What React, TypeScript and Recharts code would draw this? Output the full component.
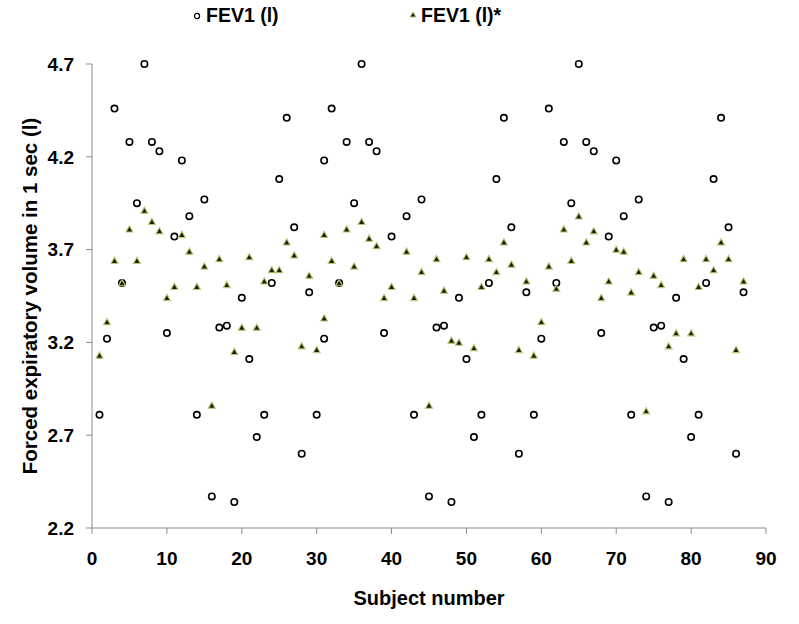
import React from 'react';
import { ScatterChart, Scatter, XAxis, YAxis } from 'recharts';

// Subject number per point (subject 41 was plotted at 31 in the original figure)
const subjectNumbers = [
  1, 2, 3, 4, 5, 6, 7, 8, 9, 10, 11, 12, 13, 14, 15, 16, 17, 18, 19, 20, 21, 22, 23, 24, 25, 26, 27, 28, 29,
  30, 31, 32, 33, 34, 35, 36, 37, 38, 39, 40, 31, 42, 43, 44, 45, 46, 47, 48, 49, 50, 51, 52, 53, 54, 55, 56, 57, 58,
  59, 60, 61, 62, 63, 64, 65, 66, 67, 68, 69, 70, 71, 72, 73, 74, 75, 76, 77, 78, 79, 80, 81, 82, 83, 84, 85, 86, 87,
];

const fev1 = [
  2.81, 3.22, 4.46, 3.52, 4.28, 3.95, 4.7, 4.28, 4.23, 3.25, 3.77, 4.18, 3.88, 2.81, 3.97, 2.37, 3.28, 3.29, 2.34, 3.44, 3.11, 2.69, 2.81, 3.52, 4.08, 4.41, 3.82, 2.6, 3.47,
  2.81, 3.22, 4.46, 3.52, 4.28, 3.95, 4.7, 4.28, 4.23, 3.25, 3.77, 4.18, 3.88, 2.81, 3.97, 2.37, 3.28, 3.29, 2.34, 3.44, 3.11, 2.69, 2.81, 3.52, 4.08, 4.41, 3.82, 2.6, 3.47,
  2.81, 3.22, 4.46, 3.52, 4.28, 3.95, 4.7, 4.28, 4.23, 3.25, 3.77, 4.18, 3.88, 2.81, 3.97, 2.37, 3.28, 3.29, 2.34, 3.44, 3.11, 2.69, 2.81, 3.52, 4.08, 4.41, 3.82, 2.6, 3.47,
];

const fev1Star = [
  3.13, 3.31, 3.64, 3.52, 3.81, 3.64, 3.91, 3.85, 3.8, 3.44, 3.5, 3.78, 3.69, 3.5, 3.61, 2.86, 3.65, 3.51, 3.15, 3.28, 3.66, 3.28, 3.53, 3.59, 3.59, 3.74, 3.67, 3.18, 3.56,
  3.16, 3.33, 3.64, 3.52, 3.81, 3.61, 3.85, 3.76, 3.72, 3.44, 3.5, 3.78, 3.69, 3.44, 3.58, 2.86, 3.65, 3.48, 3.21, 3.2, 3.66, 3.17, 3.5, 3.65, 3.58, 3.74, 3.62, 3.16, 3.53,
  3.13, 3.31, 3.61, 3.49, 3.81, 3.64, 3.88, 3.74, 3.8, 3.44, 3.53, 3.7, 3.69, 3.47, 3.58, 2.83, 3.56, 3.51, 3.18, 3.25, 3.65, 3.25, 3.5, 3.65, 3.59, 3.74, 3.65, 3.16, 3.53,
];

const xTicks = [0, 10, 20, 30, 40, 50, 60, 70, 80, 90];
const yTicks = [2.2, 2.7, 3.2, 3.7, 4.2, 4.7];

const FONT = '"Liberation Sans", Arial, sans-serif';
const AXIS_COLOR = '#8c8c8c';
const TRI_FILL = '#1c2000';
const TRI_STROKE = '#b9c878';

const circleData = subjectNumbers.map((x, i) => ({ x, y: fev1[i] }));
const triangleData = subjectNumbers.map((x, i) => ({ x, y: fev1Star[i] }));

const CircleMark = (props: any) => {
  const { cx, cy } = props;
  if (cx == null || cy == null) return null;
  return <circle cx={cx} cy={cy} r={3.2} fill="#fff" stroke="#000" strokeWidth={1.6} />;
};

const TriangleMark = (props: any) => {
  const { cx, cy } = props;
  if (cx == null || cy == null) return null;
  const s = 3.5;
  const pts = `${cx},${cy - s} ${cx - s},${cy + s * 0.8} ${cx + s},${cy + s * 0.8}`;
  return <polygon points={pts} fill={TRI_FILL} stroke={TRI_STROKE} strokeWidth={1.1} />;
};

const tickStyle = { fill: '#000', fontSize: 19, fontWeight: 700, fontFamily: FONT };

export default function App() {
  return (
    <div style={{ position: 'absolute', left: 0, top: 0, width: 799, height: 624, background: '#fff' }}>
      {/* legend */}
      <div
        style={{
          position: 'absolute',
          top: 4,
          left: 0,
          width: 799,
          height: 24,
          fontFamily: FONT,
          fontWeight: 700,
          fontSize: 19.5,
          color: '#000',
        }}
      >
        <svg width={10} height={10} style={{ position: 'absolute', left: 192, top: 7 }}>
          <circle cx={5} cy={5} r={2.6} fill="#fff" stroke="#000" strokeWidth={1.2} />
        </svg>
        <span style={{ position: 'absolute', left: 206, top: 0 }}>FEV1 (l)</span>
        <svg width={10} height={10} style={{ position: 'absolute', left: 408, top: 6 }}>
          <polygon points="5,2 2,7 8,7" fill={TRI_FILL} stroke={TRI_STROKE} strokeWidth={1} />
        </svg>
        <span style={{ position: 'absolute', left: 421, top: 0 }}>FEV1 (l)*</span>
      </div>

      <ScatterChart width={799} height={624} margin={{ top: 64, right: 33, left: 0, bottom: 0 }}>
        <XAxis
          type="number"
          dataKey="x"
          domain={[0, 90]}
          ticks={xTicks}
          height={96}
          stroke={AXIS_COLOR}
          tickSize={6}
          tickMargin={18}
          tick={tickStyle}
          label={{
            value: 'Subject number',
            position: 'insideBottom',
            offset: 19,
            style: { fill: '#000', fontSize: 20, fontWeight: 700, fontFamily: FONT },
          }}
        />
        <YAxis
          type="number"
          dataKey="y"
          domain={[2.2, 4.7]}
          ticks={yTicks}
          width={92}
          stroke={AXIS_COLOR}
          tickSize={6}
          tickMargin={12}
          tick={tickStyle}
          tickFormatter={(v: number) => v.toFixed(1)}
          label={{
            value: 'Forced expiratory volume in 1 sec (l)',
            angle: -90,
            position: 'insideLeft',
            offset: 30,
            textAnchor: 'middle',
            style: { fill: '#000', fontSize: 20.5, fontWeight: 700, fontFamily: FONT, textAnchor: 'middle' },
          }}
        />
        <Scatter name="FEV1 (l)" data={circleData} shape={<CircleMark />} isAnimationActive={false} />
        <Scatter name="FEV1 (l)*" data={triangleData} shape={<TriangleMark />} isAnimationActive={false} />
      </ScatterChart>
    </div>
  );
}
